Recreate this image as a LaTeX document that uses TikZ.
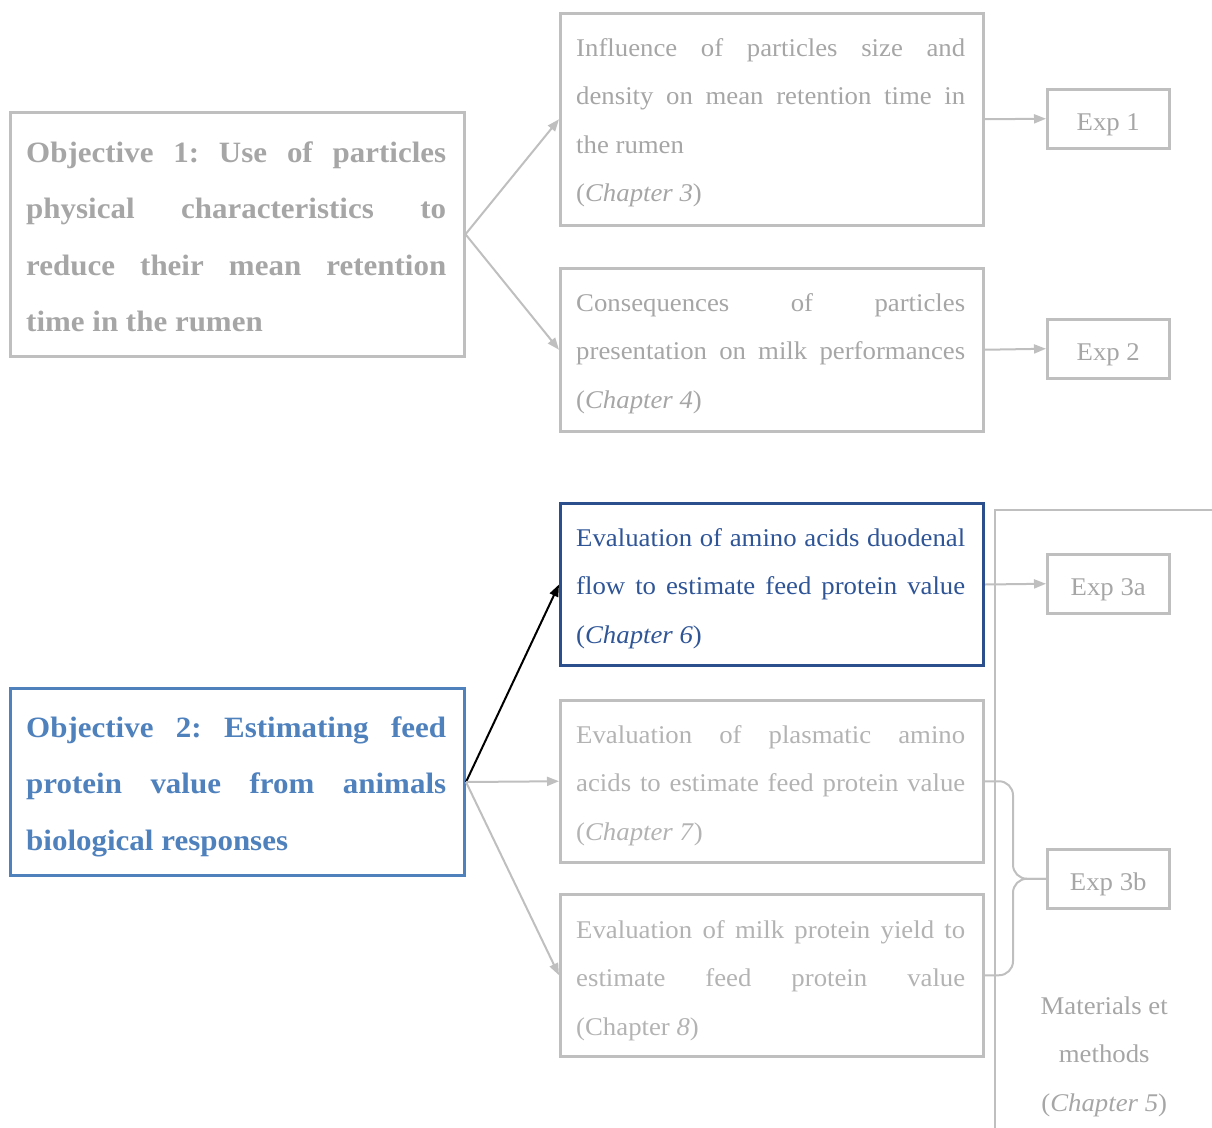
\documentclass[tikz,border=0pt]{standalone}
\usepackage{fontspec}
\setmainfont{Liberation Serif}[FakeStretch=1.05]
\usetikzlibrary{arrows.meta}
\frenchspacing
\definecolor{gbord}{HTML}{BFBFBF}
\definecolor{gtext}{HTML}{A6A6A6}
\definecolor{gtextl}{HTML}{B3B3B3}
\definecolor{objblue}{HTML}{4F81BD}
\definecolor{dkblue}{HTML}{2F5597}
\definecolor{dkbord}{HTML}{2B4F8C}
\newcommand\J[1]{\hbox to\hsize{#1}}
\newcommand\Lf[1]{\hbox{#1}}
\newcommand\TB[3]{\vtop{\hsize=#1\baselineskip=#2\relax #3}}
\tikzset{
  box/.style={draw=gbord, line width=2.5pt, inner sep=0pt, anchor=north west},
  bluebox/.style={box, draw=objblue, line width=3pt},
  dkbox/.style={box, draw=dkbord, line width=3pt},
  txt/.style={inner sep=0pt, anchor=base west, text=gtext, font=\fontsize{25.5}{30}\selectfont},
  txtl/.style={txt, text=gtextl},
  objtxt/.style={txt, font=\fontsize{29.5}{34}\selectfont\bfseries},
  exp/.style={box, minimum width=122pt, minimum height=59pt, text=gtext, text height=24pt, text depth=0pt, font=\fontsize{25.5}{30}\selectfont},
  conn/.style={draw=gbord, line width=2pt, -{Triangle[length=12pt,width=9pt]}},
  bconn/.style={draw=black, line width=2pt, -{Triangle[length=12pt,width=9pt]}},
}
\begin{document}
\begin{tikzpicture}[x=1pt,y=-1pt]
\useasboundingbox (0,0) rectangle (1212,1127);
% objective boxes
\node[box, minimum width=454pt, minimum height=244pt] (O1) at (9,111) {};
\node[bluebox, minimum width=454pt, minimum height=187pt] (O2) at (9,687) {};
% chapter boxes
\node[box, minimum width=423pt, minimum height=212pt] (A) at (559,12) {};
\node[box, minimum width=423pt, minimum height=163pt] (B) at (559,267) {};
\node[dkbox, minimum width=423pt, minimum height=162pt] (C) at (559,502) {};
\node[box, minimum width=423pt, minimum height=162pt] (D) at (559,699) {};
\node[box, minimum width=423pt, minimum height=162pt] (E) at (559,893) {};
% exp boxes
\node[exp] (X1) at (1046,88) {Exp 1};
\node[exp] (X2) at (1046,318) {Exp 2};
\node[exp] (X3a) at (1046,553) {Exp 3a};
\node[exp] (X3b) at (1046,848) {Exp 3b};
% texts
\node[objtxt] (tO1) at (26,162) {\TB{420pt}{56.5pt}{%
\J{Objective 1: Use of particles}%
\J{physical characteristics to}%
\J{reduce their mean retention}%
\Lf{time in the rumen}}};
\node[objtxt, text=objblue] (tO2) at (26,737) {\TB{420pt}{56.5pt}{%
\J{Objective 2: Estimating feed}%
\J{protein value from animals}%
\Lf{biological responses}}};
\node[txt] (tA) at (576,56) {\TB{389pt}{48.5pt}{%
\J{Influence of particles size and}%
\J{density on mean retention time in}%
\Lf{the rumen}%
\Lf{(\textit{Chapter 3})}}};
\node[txt] (tB) at (576,311) {\TB{389pt}{48.5pt}{%
\J{Consequences of particles}%
\J{presentation on milk performances}%
\Lf{(\textit{Chapter 4})}}};
\node[txt, text=dkblue] (tC) at (576,546) {\TB{389pt}{48.5pt}{%
\J{Evaluation of amino acids duodenal}%
\J{flow to estimate feed protein value}%
\Lf{(\textit{Chapter 6})}}};
\node[txtl] (tD) at (576,743) {\TB{389pt}{48.5pt}{%
\J{Evaluation of plasmatic amino}%
\J{acids to estimate feed protein value}%
\Lf{(\textit{Chapter 7})}}};
\node[txtl] (tE) at (576,938) {\TB{389pt}{48.5pt}{%
\J{Evaluation of milk protein yield to}%
\J{estimate feed protein value}%
\Lf{(Chapter \textit{8})}}};
\node[txt] (tM) at (1004,1014) {\TB{200pt}{48.5pt}{%
\J{\hfil Materials et\hfil}%
\J{\hfil methods\hfil}%
\J{\hfil(\textit{Chapter 5})\hfil}}};
% frame around materials
\coordinate (fTR) at (1212,510);
\coordinate (fBL) at (995,1130);
\draw[gbord, line width=2.5pt] (fTR) -| (fBL);
% connectors
\draw[conn] (O1.east) -- (A.west);
\draw[conn] (O1.east) -- (B.west);
\draw[bconn] (O2.east) -- (C.west);
\draw[conn] (O2.east) -- (D.west);
\draw[conn] (O2.east) -- (E.west);
\draw[conn] (A.east) -- (X1.west);
\draw[conn] (B.east) -- (X2.west);
\draw[conn] (C.east) -- (X3a.west);
% brace
\coordinate (bx) at (1013,0);
\draw[gbord, line width=2pt, rounded corners=14pt] (D.east) -| (bx |- X3b.west) -- (X3b.west);
\draw[gbord, line width=2pt, rounded corners=14pt] (X3b.west) -- (bx |- X3b.west) |- (E.east);
\end{tikzpicture}
\end{document}
